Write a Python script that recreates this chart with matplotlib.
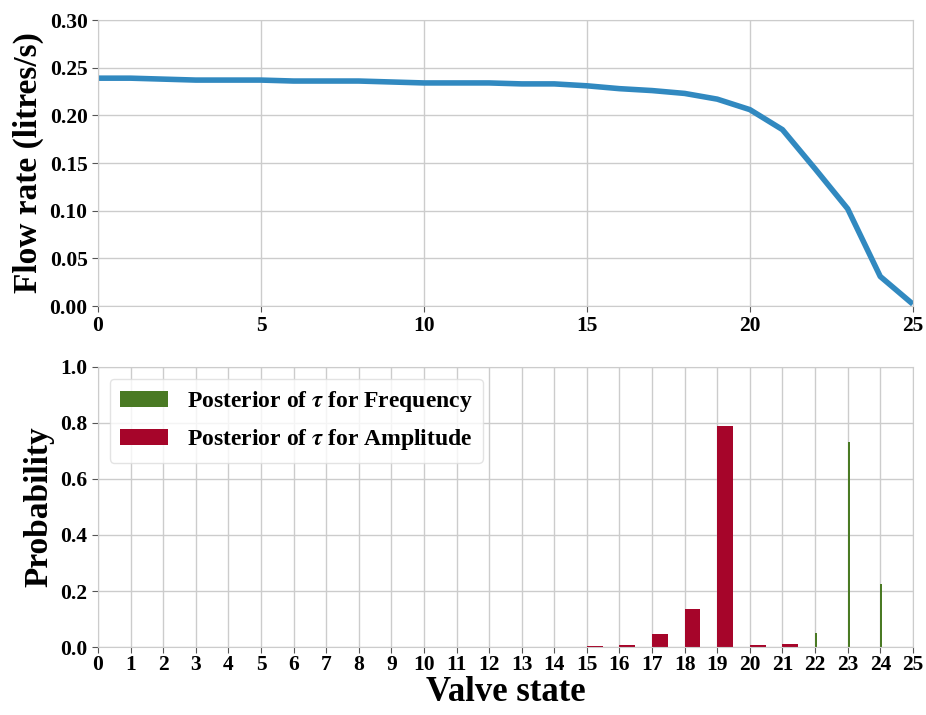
import matplotlib
matplotlib.use('Agg')
import matplotlib.pyplot as plt
import numpy as np

# flow rate against valve state
valve_states = np.arange(0, 26)
flow_rate = [0.239, 0.239, 0.238, 0.237, 0.237, 0.237, 0.236, 0.236, 0.236, 0.235,
             0.234, 0.234, 0.234, 0.233, 0.233, 0.231, 0.228, 0.226, 0.223, 0.217,
             0.206, 0.185, 0.144, 0.102, 0.031, 0.002]

# posterior of tau
freq_states = [22, 23, 24]
freq_prob = [0.05, 0.73, 0.225]
amp_states = [15, 16, 17, 18, 19, 20, 21]
amp_prob = [0.005, 0.008, 0.045, 0.135, 0.79, 0.008, 0.012]

plt.rcParams['font.family'] = ['Liberation Serif', 'DejaVu Serif']
plt.rcParams['font.weight'] = 'bold'
plt.rcParams['mathtext.fontset'] = 'stix'

grid_col = '#cccccc'

fig = plt.figure(figsize=(9.26, 7.15), dpi=100)
ax1 = fig.add_axes([0.1058, 0.572, 0.880, 0.400])
ax2 = fig.add_axes([0.1058, 0.095, 0.880, 0.392])

def style(ax, size):
    ax.set_axisbelow(True)
    ax.grid(True, color=grid_col, linewidth=1.0)
    for sp in ax.spines.values():
        sp.set_color(grid_col)
    ax.tick_params(labelsize=size, length=4, color='#555555')
    for lab in ax.get_xticklabels() + ax.get_yticklabels():
        lab.set_fontweight('bold')

ax1.plot(valve_states, flow_rate, color='#3189c0', linewidth=4, solid_capstyle='butt')
ax1.set_xlim(0, 25)
ax1.set_ylim(0, 0.30)
ax1.set_xticks([0, 5, 10, 15, 20, 25])
ax1.set_yticks(np.arange(0, 0.31, 0.05))
ax1.set_yticklabels(['%.2f' % v for v in np.arange(0, 0.31, 0.05)])
ax1.set_ylabel('Flow rate (litres/s)', fontsize=24, fontweight='bold', labelpad=4)
style(ax1, 15.5)

ax2.bar(freq_states, freq_prob, width=0.06, align='edge', color='#4a7a24',
        label=r'Posterior of $\tau$ for Frequency')
ax2.bar(amp_states, amp_prob, width=0.48, align='edge', color='#a6052a',
        label=r'Posterior of $\tau$ for Amplitude')
ax2.set_xlim(0, 25)
ax2.set_ylim(0, 1.0)
ax2.set_xticks(valve_states)
ax2.set_yticks([0, 0.2, 0.4, 0.6, 0.8, 1.0])
ax2.set_yticklabels(['0.0', '0.2', '0.4', '0.6', '0.8', '1.0'])
ax2.set_ylabel('Probability', fontsize=24, fontweight='bold', labelpad=4)
style(ax2, 15.5)
ax2.tick_params(axis='x', pad=2)
ax2.legend(loc='upper left', prop={'weight': 'bold', 'size': 17},
           handlelength=2.0, handleheight=0.7, borderpad=0.45, labelspacing=0.55,
           handletextpad=0.8, borderaxespad=0.5, frameon=True, edgecolor='#dddddd')

# put the x label right under the tick labels
ax2.set_xlabel('Valve state', fontsize=25, fontweight='bold')
fig.canvas.draw()
r = fig.canvas.get_renderer()
low = min(t.get_window_extent(r).y0 for t in ax2.get_xticklabels())
yax = ax2.transAxes.inverted().transform((0, low - 1))[1]
ax2.xaxis.set_label_coords(0.5, yax)

fig.savefig('out.png', dpi=100)
